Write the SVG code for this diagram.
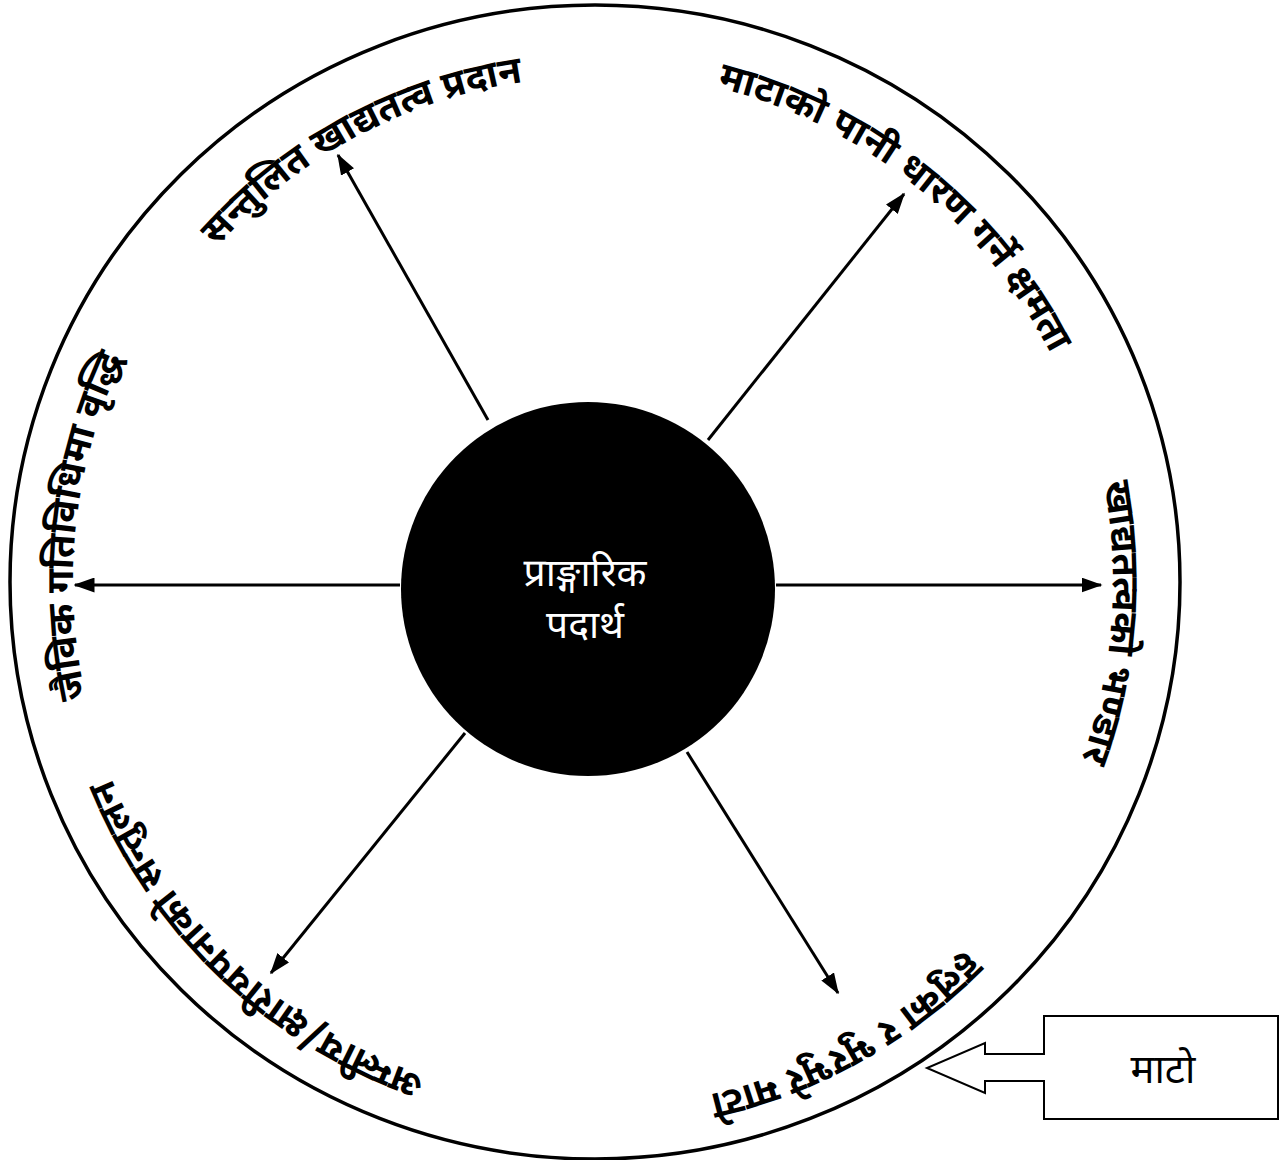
<svg xmlns="http://www.w3.org/2000/svg" width="1283" height="1160" viewBox="0 0 1283 1160">
<style>
.arc{font-family:"Noto Sans Devanagari","Noto Sans","Lohit Devanagari","Mangal",sans-serif;font-size:38px;font-weight:bold;fill:#000}
.ctr{font-family:"Noto Sans Devanagari","Noto Sans","Lohit Devanagari","Mangal",sans-serif;font-size:39px;fill:#fff;text-anchor:middle}
.box{font-family:"Noto Sans Devanagari","Noto Sans","Lohit Devanagari","Mangal",sans-serif;font-size:40px;fill:#000;text-anchor:middle}
.conn{stroke:#000;stroke-width:3;fill:none;marker-end:url(#ah)}
</style>
<defs>
<marker id="ah" markerWidth="7" markerHeight="5" refX="6.5" refY="2.5" orient="auto" markerUnits="strokeWidth"><path d="M0,0 L7,2.5 L0,5 z" fill="#000"/></marker>
<path id="p1" d="M 90.2 567 A 505 505 0 0 1 860.4 152.3"/>
<path id="p2" d="M 408.2 105.3 A 515 515 0 0 1 1101.2 658.6"/>
<path id="p3" d="M 888.4 155.1 A 518 518 0 0 1 818 1049.5"/>
<path id="p4" d="M 744.1 1082.2 A 522 522 0 0 1 87.2 461"/>
<path id="p5" d="M 1120 592.9 A 526 526 0 0 1 324.6 1033"/>
<path id="p6" d="M 286 1002.7 A 522 522 0 0 1 385.2 104"/>
</defs>
<rect width="1283" height="1160" fill="#fff"/>
<g id="outer"><ellipse cx="595" cy="582" rx="585" ry="577" fill="none" stroke="#000" stroke-width="3.5"/></g>
<g id="connectors">
<line class="conn" x1="488" y1="420" x2="338" y2="155"/>
<line class="conn" x1="708" y1="440" x2="904" y2="194"/>
<line class="conn" x1="776" y1="585" x2="1101" y2="585"/>
<line class="conn" x1="400" y1="585" x2="75" y2="585"/>
<line class="conn" x1="465" y1="733" x2="271" y2="973"/>
<line class="conn" x1="687" y1="752" x2="838" y2="993"/>
</g>
<g id="center"><circle cx="588" cy="589" r="187" fill="#000"/>
<text class="ctr" x="585" y="586">प्राङ्गारिक</text>
<text class="ctr" x="585" y="638">पदार्थ</text></g>
<g id="n1"><text class="arc"><textPath href="#p1" startOffset="50%" text-anchor="middle">सन्तुलित खाद्यतत्व प्रदान</textPath></text></g>
<g id="n2"><text class="arc"><textPath href="#p2" startOffset="50%" text-anchor="middle">माटाको पानी धारण गर्ने क्षमता</textPath></text></g>
<g id="n3"><text class="arc"><textPath href="#p3" startOffset="50%" text-anchor="middle">खाद्यतत्वको भण्डार</textPath></text></g>
<g id="n4"><text class="arc"><textPath href="#p4" startOffset="50%" text-anchor="middle">अम्लीय/क्षारीयपनाको सन्तुलन</textPath></text></g>
<g id="n5"><text class="arc"><textPath href="#p5" startOffset="50%" text-anchor="middle">हलुका र भुरभुरे माटो</textPath></text></g>
<g id="n6"><text class="arc"><textPath href="#p6" startOffset="50%" text-anchor="middle">जैविक गतिविधिमा वृद्धि</textPath></text></g>
<g id="soil"><path d="M1044,1016 L1278,1016 L1278,1119 L1044,1119 L1044,1081 L985,1081 L985,1093 L927,1068 L985,1043 L985,1054 L1044,1054 Z" fill="#fff" stroke="#000" stroke-width="2"/>
<text class="box" x="1163" y="1083">माटो</text></g>
</svg>
